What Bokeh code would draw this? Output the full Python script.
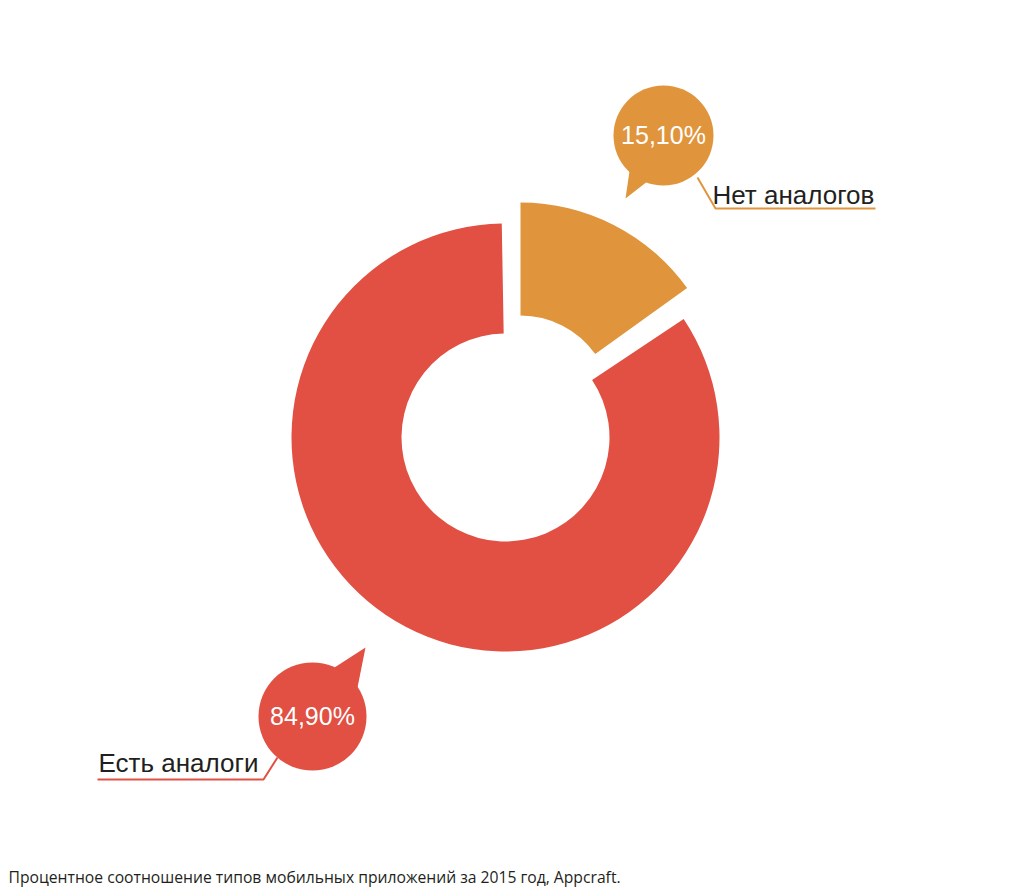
import math
from bokeh.plotting import figure
from bokeh.models import Range1d
from bokeh.core.properties import value
from bokeh.embed import file_html
from bokeh.resources import INLINE

# ---- data ----
labels = ["Есть аналоги", "Нет аналогов"]
values = [84.90, 15.10]
pct_labels = ["84,90%", "15,10%"]
colors = ["#E15043", "#E0953D"]
caption = "Процентное соотношение типов мобильных приложений за 2015 год, Appcraft."

W, H = 1016, 888
def X(sx):
    return sx
def Y(sy):
    return H - sy

p = figure(width=W, height=H, output_backend="svg", toolbar_location=None,
           x_range=Range1d(0, W), y_range=Range1d(0, H), min_border=0,
           outline_line_color=None, background_fill_color="white")
p.axis.visible = False
p.grid.visible = False

total = sum(values)
deg = math.pi / 180
a_orange = values[1] / total * 2 * math.pi
start = math.pi / 2  # top, clockwise

# red (main) slice
p.annular_wedge(x=[X(505)], y=[Y(437)], inner_radius=104, outer_radius=214,
                start_angle=[start + 1.0 * deg],
                end_angle=[start - a_orange + 2 * math.pi - 2.0 * deg],
                direction="anticlock", color=colors[0], line_color=None)
# orange (exploded) slice
p.annular_wedge(x=[X(520)], y=[Y(407)], inner_radius=92, outer_radius=205,
                start_angle=[start - a_orange], end_angle=[start],
                direction="anticlock", color=colors[1], line_color=None)

# bubbles
bubbles = [
    dict(c=(312, 716), r=54, tail=[(334, 667), (365, 647), (356, 692)],
         line=[(97, 779), (263, 779), (277, 757)],
         text_pos=(98, 762)),
    dict(c=(663, 135), r=50, tail=[(630, 164), (625, 198), (652, 177)],
         line=[(697, 177), (715, 208), (875, 208)],
         text_pos=(712, 194)),
]
for i, b in enumerate(bubbles):
    col = colors[i]
    p.line([X(a) for a, _ in b["line"]], [Y(c) for _, c in b["line"]],
           line_color=col, line_width=2)
    p.patch([X(a) for a, _ in b["tail"]], [Y(c) for _, c in b["tail"]],
            color=col, line_color=None)
    p.circle(x=[X(b["c"][0])], y=[Y(b["c"][1])], radius=b["r"], color=col,
             line_color=None)
    p.text(x=[X(b["c"][0])], y=[Y(b["c"][1] - 1)], text=[pct_labels[i]],
           text_color="white", text_font=value("Liberation Sans"),
           text_font_size="25px", text_align="center", text_baseline="middle")
    p.text(x=[X(b["text_pos"][0])], y=[Y(b["text_pos"][1])], text=[labels[i]],
           text_color="#231F20", text_font=value("Liberation Sans"),
           text_font_size="26px", text_align="left", text_baseline="alphabetic")

p.text(x=[X(8)], y=[Y(876)], text=[caption], text_color="#231F20",
       text_font=value("Open Sans"), text_font_size="15.7px",
       text_align="left", text_baseline="middle")

open("out.html", "w").write(file_html(p, INLINE))
